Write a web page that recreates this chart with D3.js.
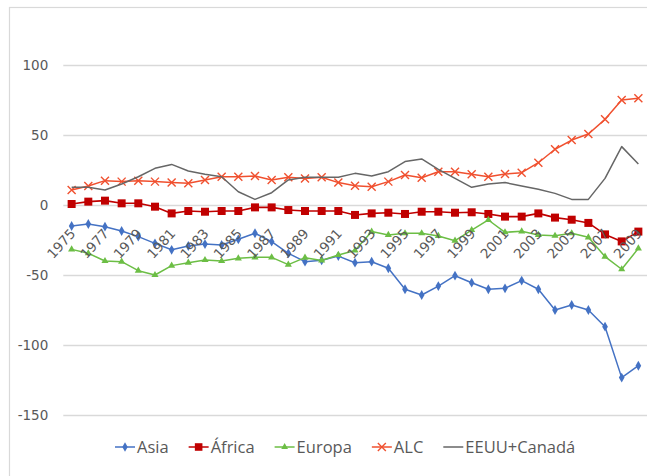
<!DOCTYPE html>
<html>
<head>
<meta charset="utf-8">
<script src="https://cdn.jsdelivr.net/npm/d3@7"></script>
<style>
  html, body { margin: 0; padding: 0; background: #fff; }
  svg { display: block; }
</style>
</head>
<body>
<svg id="chart" width="647" height="476"></svg>
<script>
// Saldo por región, 1975–2009
const years = d3.range(1975, 2010);
const yTicks = [-150, -100, -50, 0, 50, 100];

const asia = [-15, -13.6, -15.5, -18.6, -22.6, -27.4, -32, -29.3, -27.9, -28.6, -24.5, -20.2, -26.2, -34.5, -40.5, -39.5,
  -36.5, -41.2, -40.5, -45.2, -60.2, -64.3, -57.9, -50.5, -55.5, -60.2, -59.5, -54, -60.2, -75, -71.4, -75, -86.9, -123.3, -114.8];
const africa = [0.7, 2.4, 3.1, 1.2, 1.2, -1.2, -6, -4.3, -4.8, -4.3, -4.3, -1.7, -1.7, -3.6, -4.3, -4.3,
  -4.3, -7.1, -6, -5.5, -6.4, -4.8, -4.8, -5.5, -5.2, -6.4, -8.3, -8.3, -6, -9, -10.5, -12.8, -21, -26, -19];
const europa = [-31.7, -34.5, -40, -40.5, -46.9, -50, -43.3, -41.2, -39.3, -40, -38.1, -37.4, -37.4, -42.6, -37.6, -39.6,
  -35.7, -32.5, -19, -21.4, -20.2, -20.2, -22.1, -25.5, -17.9, -10.7, -19.5, -18.8, -21.4, -22, -20.2, -23.1, -36.9, -45.9, -31];
const alc = [10.7, 13.6, 17.4, 16.7, 17.4, 16.7, 16, 15.5, 17.9, 20.2, 20.2, 20.7, 17.9, 19.8, 19, 19.8,
  16, 13.8, 13.1, 16.7, 21.4, 19.5, 23.8, 23.8, 21.9, 20.2, 22.1, 23.1, 30.2, 39.8, 46.4, 50.7, 61.2, 75, 76.2];
const eeuu = [12.6, 12.6, 10.7, 15, 20.2, 26.2, 29, 24.3, 21.9, 20.2, 9.5, 4, 8.8, 17.9, 19.8, 19.8,
  19.8, 22.6, 20.7, 23.8, 31, 32.9, 25.5, 19, 12.6, 15, 16, 13.6, 11.2, 8.3, 4, 4, 19, 41.7, 29.3];

const series = [
  { name: "Asia",        values: asia,   color: "#4472C4", marker: "diamond",  size: 28 },
  { name: "África",      values: africa, color: "#C00000", marker: "square",   size: 64 },
  { name: "Europa",      values: europa, color: "#6CBE45", marker: "triangle", size: 22 },
  { name: "ALC",         values: alc,    color: "#F0502F", marker: "cross",    size: 0 },
  { name: "EEUU+Canadá", values: eeuu,   color: "#666666", marker: null,       size: 0 }
];

const svg = d3.select("#chart");
const W = 647, H = 476;
const plot = { left: 63.3, right: 646.7, top: 65, bottom: 415 };
const textColor = "#595959";
const gridColor = "#D9D9D9";

// outer chart frame
svg.append("rect")
  .attr("x", 9.5).attr("y", 7.5)
  .attr("width", 720).attr("height", 520)
  .attr("fill", "none").attr("stroke", gridColor).attr("stroke-width", 1.2);

const x = d3.scalePoint().domain(years).range([plot.left, plot.right]).padding(0.5);
const y = d3.scaleLinear().domain([-150, 100]).range([plot.bottom, plot.top]);

// value axis with gridlines
const yAxis = svg.append("g")
  .attr("transform", `translate(${plot.left},0)`)
  .call(d3.axisLeft(y).tickValues(yTicks).tickFormat(d => String(d))
    .tickSizeInner(-(W - plot.left)).tickSizeOuter(0).tickPadding(15));
yAxis.select(".domain").remove();
yAxis.selectAll(".tick line").attr("stroke", gridColor).attr("stroke-width", 1.3);
yAxis.selectAll(".tick text")
  .attr("fill", textColor)
  .style("font-family", "'DejaVu Sans', Verdana, sans-serif")
  .style("font-size", "13.5px");

// series lines and markers
const symbolType = {
  diamond: d3.symbolDiamond,
  square: d3.symbolSquare,
  triangle: d3.symbolTriangle
};

const line = d3.line().x((d, i) => x(years[i])).y(d => y(d));

function drawMarker(g, s, cx, cy) {
  if (s.marker === "cross") {
    const r = 4;
    g.append("path")
      .attr("d", `M${cx - r},${cy - r}L${cx + r},${cy + r}M${cx - r},${cy + r}L${cx + r},${cy - r}`)
      .attr("stroke", s.color).attr("stroke-width", 1.4).attr("fill", "none");
  } else if (s.marker) {
    g.append("path")
      .attr("transform", `translate(${cx},${cy})`)
      .attr("d", d3.symbol().type(symbolType[s.marker]).size(s.size)())
      .attr("fill", s.color);
  }
}

const seriesG = svg.append("g");
series.forEach(s => {
  const g = seriesG.append("g");
  g.append("path")
    .datum(s.values)
    .attr("d", line)
    .attr("fill", "none")
    .attr("stroke", s.color)
    .attr("stroke-width", s.marker === "square" ? 1.6 : 1.5)
    .attr("stroke-linejoin", "round");
  s.values.forEach((v, i) => drawMarker(g, s, x(years[i]), y(v)));
});

// category axis labels, every other year, rotated
const xAxis = svg.append("g")
  .attr("transform", `translate(0,${y(0)})`)
  .call(d3.axisBottom(x).tickValues(years.filter((d, i) => i % 2 === 0)).tickSize(0));
xAxis.select(".domain").remove();
xAxis.selectAll(".tick text")
  .attr("fill", textColor)
  .attr("y", 0).attr("dy", 0)
  .attr("text-anchor", "end")
  .attr("transform", "translate(4,29) rotate(-48)")
  .style("font-family", "'DejaVu Sans', Verdana, sans-serif")
  .style("font-size", "13.5px");

// legend
const legend = svg.append("g").attr("transform", "translate(115,447)");
let lx = 0;
series.forEach(s => {
  const item = legend.append("g").attr("transform", `translate(${lx},0)`);
  item.append("line")
    .attr("x1", 0).attr("x2", 20).attr("y1", 0).attr("y2", 0)
    .attr("stroke", s.color).attr("stroke-width", 1.5);
  drawMarker(item, Object.assign({}, s, { size: s.size * 0.9 }), 10, 0);
  const t = item.append("text")
    .attr("x", 22).attr("y", 0).attr("dy", "0.36em")
    .attr("fill", textColor)
    .style("font-family", "'Open Sans', sans-serif")
    .style("font-size", "16.5px")
    .text(s.name);
  lx += 22 + t.node().getComputedTextLength() + 20;
});
</script>
</body>
</html>
